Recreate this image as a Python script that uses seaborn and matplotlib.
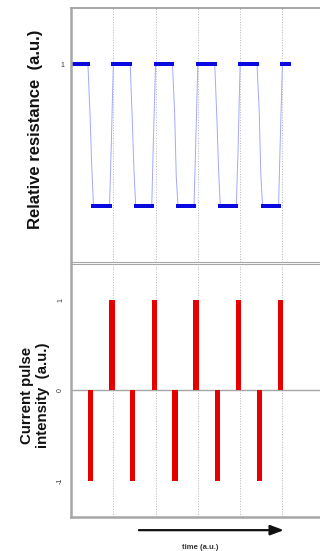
"""Resistance switching vs current pulses, two stacked panels sharing time."""

import matplotlib
matplotlib.use("Agg")
import matplotlib.pyplot as plt
from matplotlib.ticker import MultipleLocator
import seaborn as sns

# Relative resistance (a.u.)
res_time = [
    0.00, 0.08, 0.16, 0.24, 0.32, 0.40, 0.45, 0.49, 0.53, 0.61, 0.69, 0.77, 0.85, 0.91, 0.95, 1.00,
    1.08, 1.16, 1.24, 1.32, 1.40, 1.45, 1.49, 1.53, 1.61, 1.69, 1.77, 1.85, 1.91, 1.95, 2.00,
    2.08, 2.16, 2.24, 2.32, 2.40, 2.45, 2.49, 2.53, 2.61, 2.69, 2.77, 2.85, 2.91, 2.95, 3.00,
    3.08, 3.16, 3.24, 3.32, 3.40, 3.45, 3.49, 3.53, 3.61, 3.69, 3.77, 3.85, 3.91, 3.95, 4.00,
    4.08, 4.16, 4.24, 4.32, 4.40, 4.45, 4.49, 4.53, 4.61, 4.69, 4.77, 4.85, 4.91, 4.95, 5.00,
    5.08, 5.16,
]
res_value = [
    1, 1, 1, 1, 1, 1, 0.82, 0.64, 0.5, 0.5, 0.5, 0.5, 0.5, 0.5, 0.70, 1,
    1, 1, 1, 1, 1, 0.80, 0.62, 0.5, 0.5, 0.5, 0.5, 0.5, 0.5, 0.74, 1,
    1, 1, 1, 1, 1, 0.83, 0.60, 0.5, 0.5, 0.5, 0.5, 0.5, 0.5, 0.72, 1,
    1, 1, 1, 1, 1, 0.81, 0.63, 0.5, 0.5, 0.5, 0.5, 0.5, 0.5, 0.69, 1,
    1, 1, 1, 1, 1, 0.84, 0.61, 0.5, 0.5, 0.5, 0.5, 0.5, 0.5, 0.73, 1,
    1, 1,
]

# Current pulses in the lower panel (a.u.)
pulse_time = [0.46, 0.97, 1.46, 1.97, 2.46, 2.96, 3.46, 3.96, 4.46, 4.96]
pulse_value = [-1, 1, -1, 1, -1, 1, -1, 1, -1, 1]

top_ticks = [1]
bottom_ticks = [-1, 0, 1]
bottom_ticklabels = ["-1", "0", "1"]

sns.set_style("white")
plt.rcParams["font.family"] = ["Liberation Sans", "DejaVu Sans"]

GREY = "#a6a6a6"

fig = plt.figure(figsize=(3.2, 5.51), dpi=100)
ax1 = fig.add_axes([0.222, 0.5245, 0.778, 0.461])
ax2 = fig.add_axes([0.222, 0.0617, 0.778, 0.4592])

for ax in (ax1, ax2):
    ax.set_xlim(0, 5.89)
    ax.xaxis.set_major_locator(MultipleLocator(1))
    ax.grid(axis="x", which="major", color="#b4b4b4", ls=":", lw=0.7)
    ax.spines["right"].set_visible(False)
    ax.spines["left"].set_color(GREY)
    ax.spines["left"].set_linewidth(1.8)
    ax.tick_params(axis="y", direction="in", length=2, color=GREY,
                   labelsize=5, pad=5, labelcolor="#333333")

# upper panel: resistance
plateau = [(t, v) for t, v in zip(res_time, res_value) if v in (1, 0.5)]
sns.lineplot(x=res_time, y=res_value, sort=False, estimator=None,
             color="#a3a8ff", lw=0.7, ax=ax1)
sns.lineplot(x=[p[0] for p in plateau], y=[p[1] for p in plateau],
             sort=False, estimator=None, units=[p[0] // 0.5 for p in plateau],
             marker="s", markersize=2.6, markeredgewidth=0, linestyle="",
             color="#0a0ae0", ax=ax1)
ax1.set_ylim(0.3, 1.2)
ax1.set_yticks(top_ticks)
ax1.set_yticklabels(["1"])
ax1.tick_params(axis="x", length=0, labelbottom=False)
ax1.spines["top"].set_color(GREY)
ax1.spines["top"].set_linewidth(1.4)
ax1.spines["bottom"].set_color(GREY)
ax1.spines["bottom"].set_linewidth(0.8)
ax1.set_ylabel("Relative resistance  (a.u.)", fontsize=12, fontweight="bold",
               color="#111111")
ax1.yaxis.set_label_coords(-0.112, 0.524)

# lower panel: current pulses
ax2.axhline(0, color=GREY, lw=1.0, zorder=1)
sns.barplot(x=pulse_time, y=pulse_value, native_scale=True, width=0.26,
            color="#e60000", saturation=1, linewidth=0, errorbar=None,
            ax=ax2, zorder=3)
ax2.set_xlim(0, 5.89)
ax2.set_ylim(-1.4, 1.4)
ax2.set_yticks(bottom_ticks)
ax2.set_yticklabels(bottom_ticklabels, rotation=90, va="center")
ax2.xaxis.set_minor_locator(MultipleLocator(0.25))
ax2.tick_params(axis="x", which="major", direction="in", length=4,
                width=0.9, color="#8c8c8c", labelbottom=False)
ax2.tick_params(axis="x", which="minor", direction="in", length=3,
                width=0.8, color="#8c8c8c")
ax2.spines["top"].set_color(GREY)
ax2.spines["top"].set_linewidth(0.8)
ax2.spines["bottom"].set_color(GREY)
ax2.spines["bottom"].set_linewidth(1.8)
ax2.set_ylabel("Current pulse\nintensity  (a.u.)", fontsize=10.8,
               fontweight="bold", color="#111111", multialignment="center")
ax2.yaxis.set_label_coords(-0.084, 0.482)

ax2.annotate("", xy=(5.1, -0.052), xytext=(1.54, -0.052),
             xycoords=("data", "axes fraction"),
             arrowprops=dict(arrowstyle="-|>,head_length=0.8,head_width=0.3",
                             color="#111111", lw=1.6),
             annotation_clip=False)
fig.text(0.625, 0.0, "time (a.u.)", fontsize=5.5, fontweight="bold",
         ha="center", va="bottom", color="#333333")

fig.savefig("out.png", dpi=100, facecolor="white")
